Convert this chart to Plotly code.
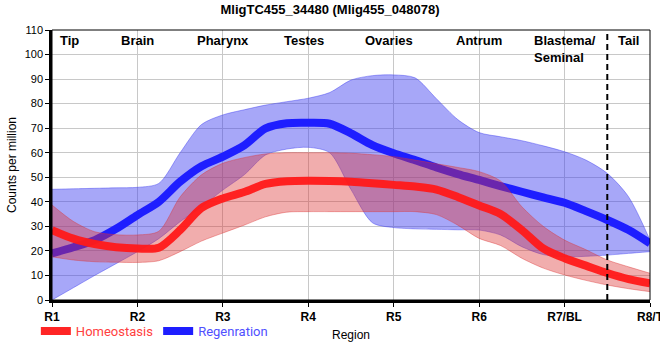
import plotly.graph_objects as go

# ---- data ----
positions = [1, 1.25, 1.5, 1.75, 2, 2.25, 2.5, 2.75, 3, 3.25, 3.5, 3.75, 4, 4.25,
             4.5, 4.75, 5, 5.25, 5.5, 5.75, 6, 6.25, 6.5, 6.75, 7, 7.25, 7.5, 7.75, 8]

homeo_mean = [28.5, 25, 22.8, 21.5, 21, 21.3, 28.5, 37.5, 41.4, 44, 47.3, 48.4, 48.6, 48.5,
              48.2, 47.6, 46.9, 46.2, 45, 42, 38.5, 35, 28.5, 21, 17, 14, 11, 8.5, 6.8]
homeo_upper = [38.7, 32, 27.8, 26.6, 26.5, 28, 42, 51, 55.7, 58, 59.5, 60, 60, 60,
               59.8, 59.2, 58.4, 57, 55.5, 54, 52.3, 48.5, 38, 30, 24.4, 20.5, 16.3, 13.5, 10.9]
homeo_lower = [17.6, 16.3, 15.6, 15.4, 15.3, 16, 19.7, 24, 27.3, 30.5, 33.9, 35.8, 36, 36,
               36, 36, 36, 36, 34.8, 30.5, 25.1, 22.2, 17, 13, 10.2, 8, 6.1, 4.6, 3.4]

regen_mean = [19, 21.5, 24.4, 29, 34.6, 40, 48.2, 54.5, 58.4, 63, 69.9, 72, 72.2, 71.8,
              67.9, 63.1, 59.8, 57, 54, 51.3, 48.9, 46.4, 44.1, 41.8, 39.6, 36.2, 32.6, 28.5, 23.1]
regen_upper = [45.1, 45.3, 45.5, 45.7, 45.9, 47.5, 60, 71.5, 75.4, 77.5, 79.4, 80.8, 82.2, 84.5,
               89.6, 91.4, 91.7, 90.5, 82, 73.5, 68.2, 66.5, 64.9, 62.8, 60.4, 57, 51.6, 42, 24.4]
regen_lower = [0, 5, 10, 14.8, 19.7, 25, 31.9, 38, 44.8, 51, 59.1, 61.5, 62.2, 60,
               45, 31.5, 29.5, 29, 28.8, 28.6, 28.5, 26.5, 21.7, 18.5, 17.6, 17.8, 18.3, 19, 19.7]

tick_vals = [1, 2, 3, 4, 5, 6, 7, 8]
tick_text = ["R1", "R2", "R3", "R4", "R5", "R6", "R7/BL", "R8/T"]

region_names = ["Tip", "Brain", "Pharynx", "Testes", "Ovaries", "Antrum", "Blastema/<br>Seminal", "Tail"]
region_pos = [1.2, 2.0, 3.0, 3.95, 4.95, 6.0, 7.0, 7.75]

boundary = 7.5

FONT = "Liberation Sans, Arial, sans-serif"
SPL = dict(shape="spline", smoothing=0.8)

fig = go.Figure()

# Regeneration band + line
fig.add_trace(go.Scatter(x=positions, y=regen_upper, mode="lines",
                         line=dict(width=0.8, color="rgba(60,60,240,0.55)", **SPL),
                         showlegend=False, hoverinfo="skip"))
fig.add_trace(go.Scatter(x=positions, y=regen_lower, mode="lines",
                         line=dict(width=0.8, color="rgba(60,60,240,0.55)", **SPL),
                         fill="tonexty", fillcolor="rgba(60,60,240,0.45)", showlegend=False, hoverinfo="skip"))
fig.add_trace(go.Scatter(x=positions, y=regen_mean, mode="lines",
                         line=dict(width=8, color="rgb(30,30,255)", **SPL),
                         name='<span style="color:#5050ff">Regenration</span>'))

# Homeostasis band + line
fig.add_trace(go.Scatter(x=positions, y=homeo_upper, mode="lines",
                         line=dict(width=0.8, color="rgba(220,50,50,0.5)", **SPL),
                         showlegend=False, hoverinfo="skip"))
fig.add_trace(go.Scatter(x=positions, y=homeo_lower, mode="lines",
                         line=dict(width=0.8, color="rgba(220,50,50,0.5)", **SPL),
                         fill="tonexty", fillcolor="rgba(220,50,50,0.4)", showlegend=False, hoverinfo="skip"))
fig.add_trace(go.Scatter(x=positions, y=homeo_mean, mode="lines",
                         line=dict(width=8, color="rgba(255,25,25,0.95)", **SPL),
                         name='<span style="color:#ff4040">Homeostasis</span>'))

# region labels at the top
for name, pos in zip(region_names, region_pos):
    fig.add_annotation(x=pos, y=1, xref="x", yref="paper", yanchor="top", yshift=-1,
                       text="<b>%s</b>" % name, showarrow=False, align="left",
                       font=dict(family=FONT, size=13, color="black"))

# dashed boundary line
fig.add_shape(type="line", x0=boundary, x1=boundary, y0=0, y1=1, xref="x", yref="paper",
              line=dict(color="black", width=2, dash="6px,4px"))
# thin frame top/right
fig.add_shape(type="rect", x0=0, x1=1, y0=0, y1=1, xref="paper", yref="paper",
              line=dict(color="black", width=1), fillcolor="rgba(0,0,0,0)")

fig.update_layout(
    width=660, height=360,
    margin=dict(l=50, r=10, t=30, b=60),
    paper_bgcolor="white", plot_bgcolor="white",
    font=dict(family=FONT, size=12, color="black"),
    title=dict(text="<b>MligTC455_34480 (Mlig455_048078)</b>", x=0.5, xanchor="center",
               y=0.975, yanchor="middle", font=dict(family=FONT, size=13, color="black")),
    showlegend=True,
    legend=dict(orientation="h", x=-0.027, xanchor="left", y=-0.115, yanchor="middle",
                font=dict(family="Roboto, " + FONT, size=13), bgcolor="rgba(0,0,0,0)",
                itemwidth=30, traceorder="reversed"),
)

fig.update_xaxes(range=[1, 8], tickvals=tick_vals, ticktext=["<b>%s</b>" % t for t in tick_text],
                 tickfont=dict(family=FONT, size=12, color="black"),
                 ticklabeloverflow="allow", automargin=False,
                 showgrid=True, gridcolor="rgb(200,200,200)", gridwidth=1,
                 showline=True, linecolor="black", linewidth=2.5,
                 ticks="outside", ticklen=4, tickwidth=1, tickcolor="black",
                 zeroline=False,
                 title=dict(text="Region", font=dict(family=FONT, size=12), standoff=8))
fig.update_yaxes(range=[0, 110], dtick=10, tick0=0,
                 tickfont=dict(family=FONT, size=11, color="black"),
                 showgrid=True, gridcolor="rgb(200,200,200)", gridwidth=1,
                 showline=True, linecolor="black", linewidth=2.5,
                 ticks="outside", ticklen=4, tickwidth=1, tickcolor="black",
                 zeroline=False,
                 title=dict(text="Counts per million", font=dict(family=FONT, size=12), standoff=6))

fig.write_html("out.html", config={"displayModeBar": False},
               post_script="document.body.style.margin='0';")
